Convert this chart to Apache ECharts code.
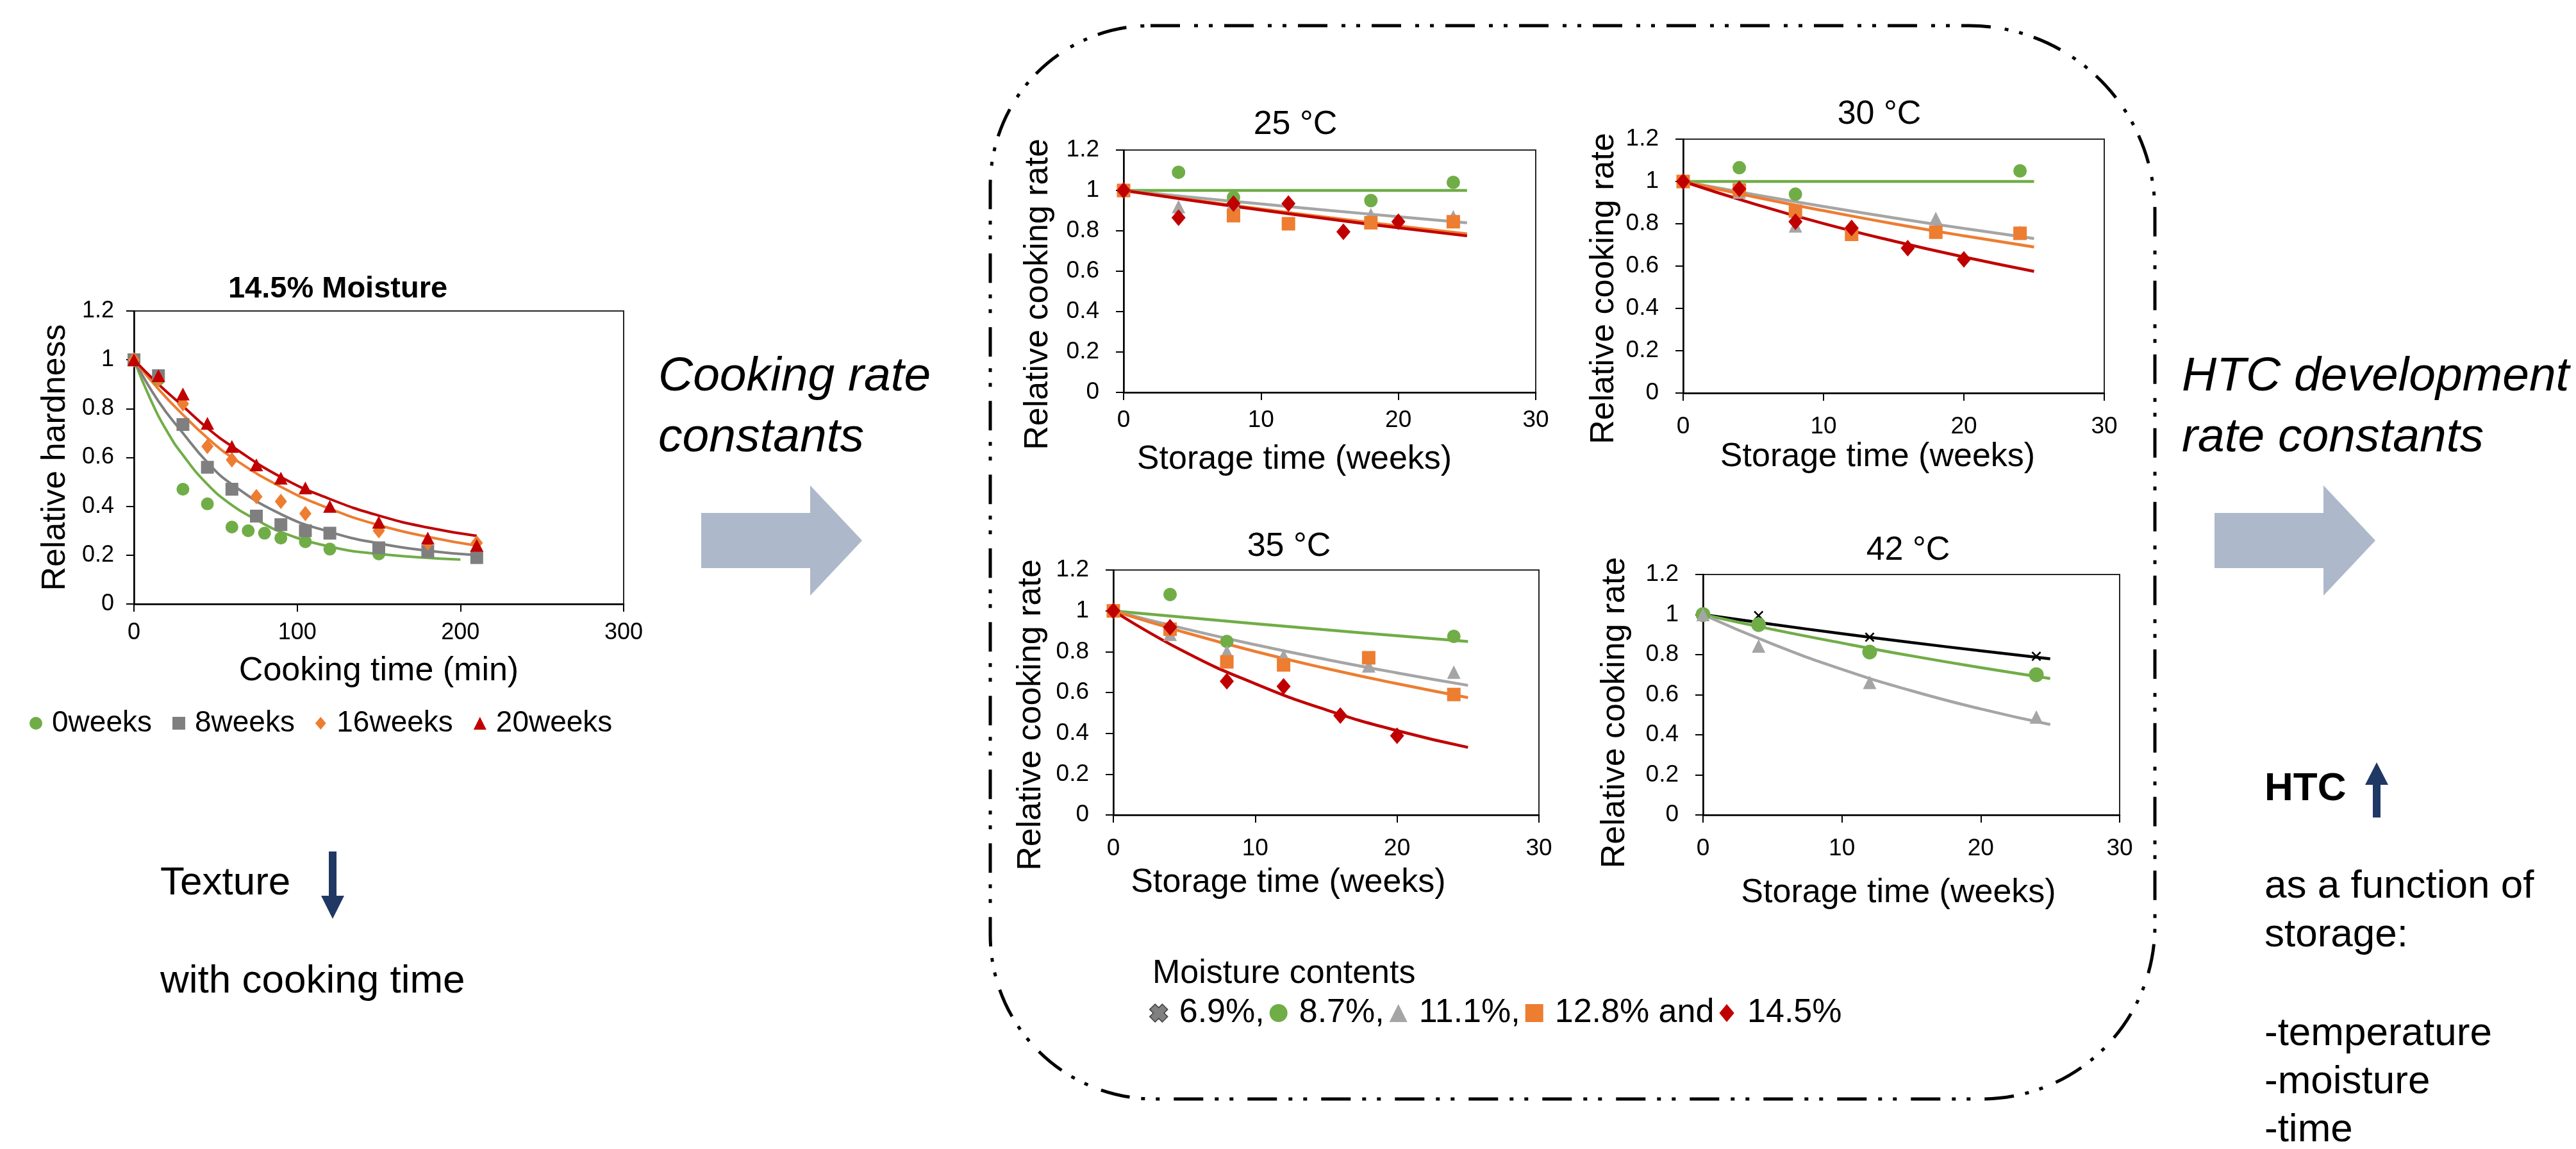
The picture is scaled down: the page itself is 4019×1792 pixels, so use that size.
<!DOCTYPE html>
<html>
<head>
<meta charset="utf-8">
<title>Texture, cooking rate and HTC</title>
<script src="https://cdn.jsdelivr.net/npm/echarts@6/dist/echarts.min.js"></script>
<style>
  html, body { margin: 0; padding: 0; background: #fff; }
  #container { width: 4019px; height: 1792px; }
</style>
</head>
<body>
<div id="container"></div>
<script>
// ---- left chart: relative hardness vs cooking time (14.5% moisture) ----
var cookT0 = [0, 15, 30, 45, 60, 70, 80, 90, 105, 120, 150]
var hard0 = [1.0, 0.92, 0.47, 0.41, 0.315, 0.30, 0.29, 0.27, 0.255, 0.225, 0.205]
var cookT8 = [0, 15, 30, 45, 60, 75, 90, 105, 120, 150, 180, 210]
var hard8 = [1.0, 0.935, 0.735, 0.56, 0.47, 0.36, 0.325, 0.30, 0.29, 0.23, 0.215, 0.19]
var cookT16 = [0, 15, 30, 45, 60, 75, 90, 105, 150, 180, 210]
var hard16 = [1.0, 0.92, 0.82, 0.645, 0.59, 0.44, 0.42, 0.37, 0.30, 0.25, 0.25]
var cookT20 = [0, 15, 30, 45, 60, 75, 90, 105, 120, 150, 180, 210]
var hard20 = [1.0, 0.935, 0.86, 0.74, 0.645, 0.57, 0.515, 0.475, 0.40, 0.335, 0.27, 0.24]
// fitted curves
var fitCookT0 = [0, 10, 20, 30, 45, 60, 75, 90, 120, 150, 200]
var fitHard0 = [1.0, 0.84, 0.71, 0.61, 0.49, 0.405, 0.345, 0.295, 0.235, 0.205, 0.182]
var fitCookT = [0, 15, 30, 45, 60, 90, 120, 150, 180, 210]
var fitHard8 = [1.0, 0.83, 0.70, 0.58, 0.49, 0.368, 0.295, 0.248, 0.218, 0.20]
var fitHard16 = [1.0, 0.88, 0.775, 0.68, 0.60, 0.48, 0.39, 0.323, 0.275, 0.239]
var fitHard20 = [1.0, 0.90, 0.81, 0.72, 0.646, 0.52, 0.43, 0.362, 0.313, 0.279]

// ---- relative cooking rate vs storage time ----
var fitWeeks = [0, 5, 10, 15, 20, 25]
// 25 °C
var t25_87 = [0, 4, 8, 18, 24]
var r25_87 = [1.0, 1.09, 0.965, 0.95, 1.04]
var t25_111 = [0, 4, 8, 18, 24]
var r25_111 = [1.0, 0.92, 0.94, 0.88, 0.87]
var t25_128 = [0, 8, 12, 18, 24]
var r25_128 = [1.0, 0.875, 0.835, 0.84, 0.845]
var t25_145 = [0, 4, 8, 12, 16, 20]
var r25_145 = [1.0, 0.865, 0.935, 0.935, 0.795, 0.845]
var f25_87 = [1.0, 1.0, 1.0, 1.0, 1.0, 1.0]
var f25_111 = [1.0, 0.966, 0.933, 0.901, 0.87, 0.84]
var f25_128 = [1.0, 0.953, 0.908, 0.865, 0.824, 0.785]
var f25_145 = [1.0, 0.95, 0.903, 0.858, 0.815, 0.775]
// 30 °C
var t30_87 = [0, 4, 8, 24]
var r30_87 = [1.0, 1.065, 0.94, 1.05]
var t30_111 = [0, 4, 8, 18, 24]
var r30_111 = [1.0, 0.95, 0.79, 0.825, 0.76]
var t30_128 = [0, 4, 8, 12, 18, 24]
var r30_128 = [1.0, 0.96, 0.86, 0.75, 0.76, 0.755]
var t30_145 = [0, 4, 8, 12, 16, 20]
var r30_145 = [1.0, 0.965, 0.81, 0.78, 0.685, 0.632]
var f30_87 = [1.0, 1.0, 1.0, 1.0, 1.0, 1.0]
var f30_111 = [1.0, 0.939, 0.882, 0.828, 0.778, 0.73]
var f30_128 = [1.0, 0.928, 0.862, 0.80, 0.743, 0.69]
var f30_145 = [1.0, 0.895, 0.801, 0.718, 0.643, 0.575]
// 35 °C
var t35_87 = [0, 4, 8, 24]
var r35_87 = [1.0, 1.08, 0.85, 0.875]
var t35_111 = [0, 4, 8, 12, 18, 24]
var r35_111 = [1.0, 0.885, 0.80, 0.78, 0.73, 0.70]
var t35_128 = [0, 4, 8, 12, 18, 24]
var r35_128 = [1.0, 0.91, 0.75, 0.735, 0.77, 0.59]
var t35_145 = [0, 4, 8, 12, 16, 20]
var r35_145 = [1.0, 0.92, 0.655, 0.63, 0.487, 0.388]
var f35_87 = [1.0, 0.968, 0.937, 0.907, 0.878, 0.85]
var f35_111 = [1.0, 0.913, 0.834, 0.762, 0.696, 0.635]
var f35_128 = [1.0, 0.895, 0.801, 0.718, 0.643, 0.575]
var f35_145 = [1.0, 0.80, 0.643, 0.515, 0.413, 0.331]
// 42 °C
var t42 = [0, 4, 12, 24]
var r42_69 = [1.0, 0.995, 0.887, 0.792]
var r42_87 = [1.0, 0.95, 0.813, 0.70]
var r42_111 = [1.0, 0.843, 0.662, 0.489]
var f42_69 = [1.0, 0.951, 0.905, 0.861, 0.819, 0.779]
var f42_87 = [1.0, 0.926, 0.858, 0.794, 0.735, 0.681]
var f42_111 = [1.0, 0.853, 0.727, 0.62, 0.529, 0.451]

// legend labels
var weekNames = ['0weeks', '8weeks', '16weeks', '20weeks']
var moistNames = ['6.9%', '8.7%', '11.1%', '12.8%', '14.5%']
var moistLabels = { '6.9%': '6.9%,', '8.7%': '8.7%,', '11.1%': '11.1%,', '12.8%': '12.8% and', '14.5%': '14.5%' }

var FONT = '"Liberation Sans", Arial, Helvetica, sans-serif'
var GREEN = '#70AD47'
var GREY = '#A5A5A5'
var DKGREY = '#7F7F7F'
var ORANGE = '#ED7D31'
var RED = '#C00000'
var XMARK = 'path://M0,2.5 L2.5,0 L10,7.5 L17.5,0 L20,2.5 L12.5,10 L20,17.5 L17.5,20 L10,12.5 L2.5,20 L0,17.5 L7.5,10 Z'
var XBIG = 'path://M0,6 L6,0 L10,4 L14,0 L20,6 L16,10 L20,14 L14,20 L10,16 L6,20 L0,14 L4,10 Z'
var TRI = 'path://M10,0 L20,20 L0,20 Z'
var DIAM = 'path://M10,0 L20,12 L10,24 L0,12 Z'
var SQR = 'path://M0,0 L20,0 L20,20 L0,20 Z'

function pairs(xs, ys) {
  return xs.map(function (x, i) { return [x, ys[i]] })
}

var grids = []
var xAxes = []
var yAxes = []
var series = []

function addPanel(p) {
  var i = grids.length
  grids.push({
    left: p.left, top: p.top, width: p.width, height: p.height,
    show: true, borderColor: '#262626', borderWidth: 2, outerBoundsMode: 'none'
  })
  xAxes.push({
    gridIndex: i, type: 'value', min: 0, max: p.xMax, interval: p.xStep,
    name: p.xName, nameLocation: 'middle', nameGap: p.xNameGap, nameMoveOverlap: false,
    nameTextStyle: { fontFamily: FONT, fontSize: 52, color: '#000', padding: [0, 2 * p.xNameShift, 0, 0] },
    axisLine: { onZero: false, lineStyle: { color: '#000', width: 2.5 } },
    axisTick: { show: true, length: 12, lineStyle: { color: '#000', width: 2 } },
    axisLabel: { fontFamily: FONT, fontSize: p.tickSize, color: '#000', margin: p.xLabelMargin },
    splitLine: { show: false }
  })
  yAxes.push({
    gridIndex: i, type: 'value', min: 0, max: 1.2, interval: 0.2,
    name: p.yName, nameLocation: 'middle', nameGap: p.yNameGap, nameMoveOverlap: false,
    nameTextStyle: { fontFamily: FONT, fontSize: 52, color: '#000', padding: [0, 2 * p.yNameShift, 0, 0] },
    axisLine: { show: true, onZero: false, lineStyle: { color: '#000', width: 2.5 } },
    axisTick: { show: true, length: 12, lineStyle: { color: '#000', width: 2 } },
    axisLabel: { fontFamily: FONT, fontSize: p.tickSize, color: '#000', margin: p.yLabelMargin },
    splitLine: { show: false }
  })
  // fitted lines under the markers
  p.lines.forEach(function (l) {
    series.push({
      type: 'line', name: l.name, xAxisIndex: i, yAxisIndex: i,
      data: pairs(l.x, l.y), smooth: 0.5, symbol: 'none', showSymbol: false,
      lineStyle: { color: l.color, width: p.lineWidth }, itemStyle: { color: l.color },
      z: 2, silent: true
    })
  })
  p.points.forEach(function (s) {
    series.push({
      type: 'scatter', name: s.name, xAxisIndex: i, yAxisIndex: i,
      data: pairs(s.x, s.y), symbol: s.symbol, symbolSize: s.size,
      itemStyle: { color: s.color, opacity: 1 }, z: 3
    })
  })
}

var common = { xMax: 30, xStep: 10, tickSize: 37, yLabelMargin: 38, lineWidth: 4.5,
  xName: 'Storage time (weeks)', yName: 'Relative cooking rate' }
function panel(extra) { return Object.assign({}, common, extra) }

// scatter series must be added before lines for legend icon lookup; lines use lower z anyway
addPanel({
  left: 209, top: 485, width: 764, height: 457, xMax: 300, xStep: 100, tickSize: 36,
  xLabelMargin: 27, yLabelMargin: 31, lineWidth: 4,
  xName: 'Cooking time (min)', xNameGap: 79, xNameShift: 0,
  yName: 'Relative hardness', yNameGap: 96, yNameShift: 0,
  lines: [
    { name: '0weeks', x: fitCookT0, y: fitHard0, color: GREEN },
    { name: '8weeks', x: fitCookT, y: fitHard8, color: DKGREY },
    { name: '16weeks', x: fitCookT, y: fitHard16, color: ORANGE },
    { name: '20weeks', x: fitCookT, y: fitHard20, color: RED }
  ],
  points: [
    { name: '0weeks', x: cookT0, y: hard0, color: GREEN, symbol: 'circle', size: 20 },
    { name: '8weeks', x: cookT8, y: hard8, color: DKGREY, symbol: 'rect', size: 20 },
    { name: '16weeks', x: cookT16, y: hard16, color: ORANGE, symbol: 'diamond', size: [19, 24] },
    { name: '20weeks', x: cookT20, y: hard20, color: RED, symbol: 'triangle', size: [21, 20] }
  ]
})

addPanel(panel({
  left: 1753, top: 234, width: 643, height: 378, xLabelMargin: 25,
  xNameGap: 79, xNameShift: 55, yNameGap: 107, yNameShift: 36,
  lines: [
    { name: '8.7%', x: fitWeeks, y: f25_87, color: GREEN },
    { name: '11.1%', x: fitWeeks, y: f25_111, color: GREY },
    { name: '12.8%', x: fitWeeks, y: f25_128, color: ORANGE },
    { name: '14.5%', x: fitWeeks, y: f25_145, color: RED }
  ],
  points: [
    { name: '8.7%', x: t25_87, y: r25_87, color: GREEN, symbol: 'circle', size: 21 },
    { name: '11.1%', x: t25_111, y: r25_111, color: GREY, symbol: 'triangle', size: 21 },
    { name: '12.8%', x: t25_128, y: r25_128, color: ORANGE, symbol: 'rect', size: 21 },
    { name: '14.5%', x: t25_145, y: r25_145, color: RED, symbol: 'diamond', size: [22, 26] }
  ]
}))

addPanel(panel({
  left: 2626, top: 217, width: 657, height: 396, xLabelMargin: 34,
  xNameGap: 74, xNameShift: 25, yNameGap: 97, yNameShift: 35,
  lines: [
    { name: '8.7%', x: fitWeeks, y: f30_87, color: GREEN },
    { name: '11.1%', x: fitWeeks, y: f30_111, color: GREY },
    { name: '12.8%', x: fitWeeks, y: f30_128, color: ORANGE },
    { name: '14.5%', x: fitWeeks, y: f30_145, color: RED }
  ],
  points: [
    { name: '8.7%', x: t30_87, y: r30_87, color: GREEN, symbol: 'circle', size: 21 },
    { name: '11.1%', x: t30_111, y: r30_111, color: GREY, symbol: 'triangle', size: 21 },
    { name: '12.8%', x: t30_128, y: r30_128, color: ORANGE, symbol: 'rect', size: 21 },
    { name: '14.5%', x: t30_145, y: r30_145, color: RED, symbol: 'diamond', size: [22, 26] }
  ]
}))

addPanel(panel({
  left: 1737, top: 889, width: 664, height: 382, xLabelMargin: 34,
  xNameGap: 80, xNameShift: 59, yNameGap: 102, yNameShift: 35,
  lines: [
    { name: '8.7%', x: fitWeeks, y: f35_87, color: GREEN },
    { name: '11.1%', x: fitWeeks, y: f35_111, color: GREY },
    { name: '12.8%', x: fitWeeks, y: f35_128, color: ORANGE },
    { name: '14.5%', x: fitWeeks, y: f35_145, color: RED }
  ],
  points: [
    { name: '8.7%', x: t35_87, y: r35_87, color: GREEN, symbol: 'circle', size: 21 },
    { name: '11.1%', x: t35_111, y: r35_111, color: GREY, symbol: 'triangle', size: 21 },
    { name: '12.8%', x: t35_128, y: r35_128, color: ORANGE, symbol: 'rect', size: 21 },
    { name: '14.5%', x: t35_145, y: r35_145, color: RED, symbol: 'diamond', size: [22, 26] }
  ]
}))

addPanel(panel({
  left: 2657, top: 896, width: 650, height: 375, xLabelMargin: 34,
  xNameGap: 96, xNameShift: 20, yNameGap: 111, yNameShift: 28,
  lines: [
    { name: '6.9%', x: fitWeeks, y: f42_69, color: '#000' },
    { name: '8.7%', x: fitWeeks, y: f42_87, color: GREEN },
    { name: '11.1%', x: fitWeeks, y: f42_111, color: GREY }
  ],
  points: [
    { name: '6.9%', x: t42, y: r42_69, color: '#000', symbol: XMARK, size: 15 },
    { name: '8.7%', x: t42, y: r42_87, color: GREEN, symbol: 'circle', size: 23 },
    { name: '11.1%', x: t42, y: r42_111, color: GREY, symbol: 'triangle', size: 21 }
  ]
}))

function txt(x, y, text, size, extra) {
  var style = Object.assign({
    text: text, fill: '#000', fontFamily: FONT, fontSize: size,
    textAlign: 'left', align: 'left', textVerticalAlign: 'middle', verticalAlign: 'middle'
  }, extra || {})
  return { type: 'text', x: x, y: y, silent: true, style: style }
}
function ctxt(x, y, text, size, extra) {
  return txt(x, y, text, size, Object.assign({ textAlign: 'center', align: 'center' }, extra || {}))
}
function bigArrow(x0) {
  return {
    type: 'polygon', silent: true,
    shape: { points: [[x0, 800], [x0 + 170, 800], [x0 + 170, 757], [x0 + 251, 843],
      [x0 + 170, 929], [x0 + 170, 886], [x0, 886]] },
    style: { fill: '#ADB9CA' }
  }
}

var graphics = [
  {
    type: 'rect', silent: true, z: -1,
    shape: { x: 1545, y: 40, width: 1817, height: 1674, r: [250, 290, 270, 256] },
    style: { fill: 'transparent', stroke: '#000', lineWidth: 5, lineDash: [46, 22, 6, 17, 6, 18] }
  },
  bigArrow(1094),
  bigArrow(3455),
  {
    type: 'polygon', silent: true,
    shape: { points: [[513, 1328], [525, 1328], [525, 1397], [537, 1397], [519, 1433], [501, 1397], [513, 1397]] },
    style: { fill: '#203864' }
  },
  {
    type: 'polygon', silent: true,
    shape: { points: [[3708, 1189], [3726, 1224], [3714, 1224], [3714, 1275], [3702, 1275], [3702, 1224], [3690, 1224]] },
    style: { fill: '#203864' }
  },
  ctxt(527, 451, '14.5% Moisture', 47, { fontWeight: 'bold' }),
  ctxt(2021, 195, '25 °C', 52),
  ctxt(2932, 179, '30 °C', 52),
  ctxt(2011, 853, '35 °C', 52),
  ctxt(2977, 859, '42 °C', 52),
  txt(250, 1378, 'Texture', 62),
  txt(250, 1531, 'with cooking time', 62),
  txt(1027, 636, 'Cooking rate\nconstants', 75, { fontStyle: 'italic', lineHeight: 95 }),
  txt(3404, 636, 'HTC development\nrate constants', 75, { fontStyle: 'italic', lineHeight: 95 }),
  txt(3533, 1231, 'HTC', 62, { fontWeight: 'bold' }),
  txt(3533, 1421, 'as a function of\nstorage:', 62, { lineHeight: 76 }),
  txt(3533, 1688, '-temperature\n-moisture\n-time', 62, { lineHeight: 75 }),
  txt(1798, 1519, 'Moisture contents', 52)
]

var chart = echarts.init(document.getElementById('container'))
chart.setOption({
  backgroundColor: '#fff',
  animation: false,
  textStyle: { fontFamily: FONT },
  grid: grids,
  xAxis: xAxes,
  yAxis: yAxes,
  legend: [
    {
      data: [
        { name: weekNames[0], icon: 'circle' },
        { name: weekNames[1], icon: SQR },
        { name: weekNames[2], icon: DIAM },
        { name: weekNames[3], icon: TRI }
      ],
      left: 46, top: 1105, padding: 0, itemWidth: 40, itemHeight: 20, itemGap: 32,
      symbolKeepAspect: true, selectedMode: false,
      textStyle: { fontFamily: FONT, fontSize: 46, color: '#000' }
    },
    {
      data: [
        { name: moistNames[0], icon: XBIG, itemStyle: { color: '#808080', borderColor: '#3F3F3F', borderWidth: 1.5 } },
        { name: moistNames[1], icon: 'circle' },
        { name: moistNames[2], icon: TRI },
        { name: moistNames[3], icon: SQR },
        { name: moistNames[4], icon: DIAM }
      ],
      left: 1793, top: 1554, padding: 0, itemWidth: 54, itemHeight: 28, itemGap: 8,
      symbolKeepAspect: true, selectedMode: false,
      formatter: function (name) { return moistLabels[name] },
      textStyle: { fontFamily: FONT, fontSize: 52, color: '#000' }
    }
  ],
  graphic: graphics,
  series: series
})
</script>
</body>
</html>
